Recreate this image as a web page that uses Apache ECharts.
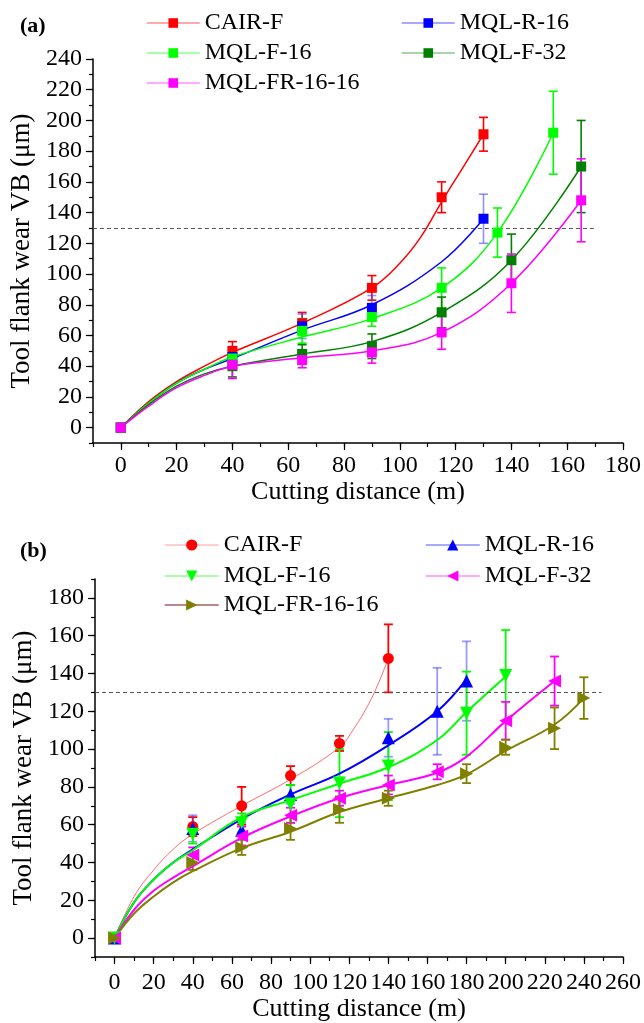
<!DOCTYPE html>
<html><head><meta charset="utf-8">
<script src="https://cdn.jsdelivr.net/npm/echarts@6/dist/echarts.min.js"></script>
<style>
html,body{margin:0;padding:0;background:#fff;width:644px;height:1023px;overflow:hidden}
#c{position:absolute;left:0;top:0;width:644px;height:1023px}
</style></head><body>
<div id="c"></div>
<script>
// ================= Panel (a) =================
const aNames = ['CAIR-F','MQL-R-16','MQL-F-16','MQL-F-32','MQL-FR-16-16'];
const aColors = ['#ff0000','#0000ff','#00ff00','#008000','#ff00ff'];
// measured points (x, mean, half error)
const a1x = [0,40,65,90,115,130];        const a1y = [0,50,68,91,150,191];      const a1e = [0,6,7,8,10,11];
const a2x = [0,40,65,90,130];            const a2y = [0,46,66,78,136];          const a2e = [0,5,8,8,16];
const a3x = [0,40,65,90,115,135,155];    const a3y = [0,45,63,72,91,127,192];   const a3e = [0,6,8,6,13,16,27];
const a4x = [0,40,65,90,115,140,165];    const a4y = [0,40,48,53,75,109,170];   const a4e = [0,7,6,8,10,17,30];
const a5x = [0,40,65,90,115,140,165];    const a5y = [0,41,44,49,62,94,148];    const a5e = [0,9,5,7,11,19,27];
// fitted curves
const a1cx = [0,10,20,30,40,65,90,100,107.5,115,122.5,130]; const a1cy = [0,17,30,40,49,68,91,107,124,147,169,191];
const a2cx = [0,10,20,30,40,65,90,115,130];        const a2cy = [0,16,29,38,45,63.5,80,108,136];
const a3cx = [0,10,20,30,40,65,90,115,135,155];    const a3cy = [0,16,29,38,46,59,71,91,127,192];
const a4cx = [0,10,20,30,40,65,90,115,140,165];    const a4cy = [0,15,27,35,40,48,56,75,109,170];
const a5cx = [0,10,20,30,40,65,90,115,140,165];    const a5cy = [0,14,26,34,40,45.5,50,62,94,148];
const aXTicks = [0,20,40,60,80,100,120,140,160,180];
const aYTicks = [0,20,40,60,80,100,120,140,160,180,200,220,240];
const aThreshold = 130; const aThresholdRange = [-10,170];

// ================= Panel (b) =================
const bNames = ['CAIR-F','MQL-R-16','MQL-F-16','MQL-F-32','MQL-FR-16-16'];
const bColors = ['#ff0000','#0000ff','#00ff00','#ff00ff','#808000'];
const b1x = [0,40,65,90,115,140];                 const b1y = [0,59,70,86,103,148];               const b1e = [0,5,10,5,4,18];
const b2x = [0,40,65,90,140,165,180];             const b2y = [0,58,57,76,106,120,136];           const b2e = [0,7,4,5,10,23,21];
const b3x = [0,40,65,90,115,140,180,200];         const b3y = [0,55,61,71,82,91,119,139];         const b3e = [0,5,5,10,18,18,22,24];
const b4x = [0,40,65,90,115,140,165,200,225];     const b4y = [0,44,54,65,74,81,88,115,136];      const b4e = [0,4,5,4,4,5,4,10,13];
const b5x = [0,40,65,90,115,140,180,200,225,240]; const b5y = [0,40,48,58,68,74,87,101,111,127];  const b5e = [0,4,4,6,7,4,5,4,11,11];
const b1cx = [0,10,20,30,40,65,90,115,122.5,130,135,140];        const b1cy = [0,22,36,47,55,70,84,101,111,124,135,148];
const b2cx = [0,10,20,30,40,65,90,115,140,165,180];              const b2cy = [0,19,31,40,47,63,76,87,102,120,137];
const b3cx = [0,10,20,30,40,65,90,115,140,165,180,200];          const b3cy = [0,19,31,40,46.5,64,73,81.7,90.4,104.8,119.6,138.4];
const b4cx = [0,10,20,30,40,65,90,115,140,165,180,200,225];      const b4cy = [0,15,25,32,38,53,64.4,74,81,87.5,96,114.8,136];
const b5cx = [0,10,20,30,40,65,90,115,140,165,180,200,225,240];  const b5cy = [0,13,22,29.5,35.4,47.6,56.3,66.7,74,81,86.6,99,113,127];
const bXTicks = [0,20,40,60,80,100,120,140,160,180,200,220,240,260];
const bYTicks = [0,20,40,60,80,100,120,140,160,180];
const bThreshold = 130; const bThresholdRange = [-10,249];

const FONT = 'Liberation Serif';
const PREFIX_B = 'b|';

function errSeries(xs, ys, es, color, width, gi) {
  const data = [];
  xs.forEach((x,i)=>{ if (es[i] > 0) data.push([x, ys[i]-es[i], ys[i]+es[i]]); });
  return {
    type:'custom', data, silent:true, z:3, xAxisIndex:gi*2, yAxisIndex:gi*2,
    encode:{x:0, y:[1,2]},
    renderItem(params, api){
      const x = api.value(0), lo = api.value(1), hi = api.value(2);
      const p1 = api.coord([x, lo]), p2 = api.coord([x, hi]);
      const h = 4.5;
      const style = {stroke: color, lineWidth: width, fill:null};
      return {type:'group', children:[
        {type:'line', shape:{x1:p1[0],y1:p1[1],x2:p2[0],y2:p2[1]}, style},
        {type:'line', shape:{x1:p1[0]-h,y1:p1[1],x2:p1[0]+h,y2:p1[1]}, style},
        {type:'line', shape:{x1:p2[0]-h,y1:p2[1],x2:p2[0]+h,y2:p2[1]}, style}
      ]};
    }
  };
}
function curveSeries(name, xs, ys, color, lineColor, width, symbol, rotate, gi) {
  return {
    type:'line', name, data: xs.map((x,i)=>[x, ys[i]]), smooth:0.4,
    symbol, symbolRotate: rotate || 0, showSymbol:false,
    lineStyle:{color:lineColor, width}, itemStyle:{color}, z:4,
    xAxisIndex:gi*2, yAxisIndex:gi*2, silent:true
  };
}
function pointSeries(name, xs, ys, color, symbol, size, rotate, gi) {
  return {
    type:'scatter', name: name + ' points', data: xs.map((x,i)=>[x, ys[i]]),
    symbol, symbolSize:size, symbolRotate: rotate || 0,
    itemStyle:{color, opacity:1}, z:5, xAxisIndex:gi*2, yAxisIndex:gi*2, silent:true
  };
}
function axesFor(gi, xmin, xmax, xt, ymin, ymax, yt, xGap, yGap, xMargin) {
  const common = {type:'value', splitLine:{show:false}, gridIndex:gi};
  const lab = {fontFamily:FONT, fontSize:24, color:'#000'};
  return {
    xAxis:[
      Object.assign({}, common, {min:xmin, max:xmax, interval:10, position:'bottom',
        axisLine:{show:true, onZero:false, lineStyle:{color:'#000', width:1.5}},
        axisTick:{show:true, length:4, lineStyle:{color:'#000', width:1.2}},
        axisLabel:Object.assign({show:true, customValues:xt, margin:xMargin}, lab),
        name:'Cutting distance (m)', nameLocation:'middle', nameGap:xGap,
        nameTextStyle:{fontFamily:FONT, fontSize:26, color:'#000'}}),
      Object.assign({}, common, {min:xmin, max:xmax, position:'bottom',
        axisLine:{show:false, onZero:false},
        axisTick:{show:true, customValues:xt, length:7, lineStyle:{color:'#000', width:1.2}},
        axisLabel:{show:false}})
    ],
    yAxis:[
      Object.assign({}, common, {min:ymin, max:ymax, interval:10, position:'left',
        axisLine:{show:true, onZero:false, lineStyle:{color:'#000', width:1.5}},
        axisTick:{show:true, length:4, lineStyle:{color:'#000', width:1.2}},
        axisLabel:Object.assign({show:true, customValues:yt, margin:11}, lab),
        name:'Tool flank wear VB (\u03bcm)', nameLocation:'middle', nameGap:yGap,
        nameTextStyle:{fontFamily:FONT, fontSize:27, color:'#000'}}),
      Object.assign({}, common, {min:ymin, max:ymax, position:'left',
        axisLine:{show:false, onZero:false},
        axisTick:{show:true, customValues:yt, length:7, lineStyle:{color:'#000', width:1.2}},
        axisLabel:{show:false}})
    ]
  };
}
function legendItem(name, left, top, itemWidth, itemHeight, lineColor) {
  const d = {name};
  if (lineColor) d.lineStyle = {color:lineColor, opacity:0.8};
  return {data:[d], left, top, padding:0, itemGap:0, itemWidth, itemHeight,
    selectedMode:false, formatter: n => n.replace(PREFIX_B, ''),
    textStyle:{fontFamily:FONT, fontSize:24, color:'#000', lineHeight:24},
    lineStyle:{opacity:0.45, width:1.5}};
}
function thresholdLine(v, range) {
  return {silent:true, symbol:'none', label:{show:false}, animation:false,
    lineStyle:{type:[4,3], color:'#555', width:1},
    data:[[{coord:[range[0], v]},{coord:[range[1], v]}]]};
}

const chart = echarts.init(document.getElementById('c'), null, {renderer:'canvas'});
const axA = axesFor(0, -10, 180, aXTicks, -10, 240, aYTicks, 33, 52, 11);
const axB = axesFor(1, -10, 260, bXTicks, -10, 190, bYTicks, 39, 55, 14);

const series = [];
// (a)
const aXs=[a1x,a2x,a3x,a4x,a5x], aYs=[a1y,a2y,a3y,a4y,a5y], aEs=[a1e,a2e,a3e,a4e,a5e];
const aCX=[a1cx,a2cx,a3cx,a4cx,a5cx], aCY=[a1cy,a2cy,a3cy,a4cy,a5cy];
aNames.forEach((n,i)=>{
  series.push(errSeries(aXs[i], aYs[i], aEs[i], i===1 ? 'rgba(70,70,255,0.6)' : aColors[i], 1.6, 0));
});
aNames.forEach((n,i)=>{
  const s = curveSeries(n, aCX[i], aCY[i], aColors[i], aColors[i], 1.5, 'rect', 0, 0);
  if (i===0) s.markLine = thresholdLine(aThreshold, aThresholdRange);
  series.push(s);
  series.push(pointSeries(n, aXs[i], aYs[i], aColors[i], 'rect', 10, 0, 0));
});
// (b)
const bXs=[b1x,b2x,b3x,b4x,b5x], bYs=[b1y,b2y,b3y,b4y,b5y], bEs=[b1e,b2e,b3e,b4e,b5e];
const bCX=[b1cx,b2cx,b3cx,b4cx,b5cx], bCY=[b1cy,b2cy,b3cy,b4cy,b5cy];
const bSym = [['circle',11,0],['triangle',13,0],['triangle',13,180],['triangle',13,90],['triangle',13,-90]];
bNames.forEach((n,i)=>{
  series.push(errSeries(bXs[i], bYs[i], bEs[i], i===1 ? 'rgba(70,70,255,0.55)' : bColors[i], 1.8, 1));
});
bNames.forEach((n,i)=>{
  const lc = i===0 ? 'rgba(255,60,60,0.75)' : bColors[i];
  const s = curveSeries(PREFIX_B + n, bCX[i], bCY[i], bColors[i], lc, i===0 ? 1 : 2, bSym[i][0], bSym[i][2], 1);
  if (i===0) s.markLine = thresholdLine(bThreshold, bThresholdRange);
  series.push(s);
  series.push(pointSeries(PREFIX_B + n, bXs[i], bYs[i], bColors[i], bSym[i][0], bSym[i][1], bSym[i][2], 1));
});

chart.setOption({
  animation:false, backgroundColor:'#fff',
  title:[
    {text:'(a)', left:15, top:10, textStyle:{fontFamily:FONT, fontWeight:'bold', fontSize:22, color:'#000'}},
    {text:'(b)', left:15, top:535, textStyle:{fontFamily:FONT, fontWeight:'bold', fontSize:22, color:'#000'}}
  ],
  grid:[
    {left:91, right:20, top:59, bottom:580, containLabel:false},
    {left:95, right:19, top:579, bottom:61, containLabel:false}
  ],
  xAxis: axA.xAxis.concat(axB.xAxis),
  yAxis: axA.yAxis.concat(axB.yAxis),
  legend:[
    legendItem(aNames[0], 146, 11, 53, 12), legendItem(aNames[1], 401, 11, 53, 12),
    legendItem(aNames[2], 146, 41, 53, 12), legendItem(aNames[3], 401, 41, 53, 12),
    legendItem(aNames[4], 146, 71, 53, 12),
    legendItem(PREFIX_B + bNames[0], 164, 533, 54, 14), legendItem(PREFIX_B + bNames[1], 425, 533, 54, 14),
    legendItem(PREFIX_B + bNames[2], 164, 564, 54, 14), legendItem(PREFIX_B + bNames[3], 425, 564, 54, 14),
    legendItem(PREFIX_B + bNames[4], 164, 593, 54, 14, '#8b3a3a')
  ],
  series
});
</script></body></html>
